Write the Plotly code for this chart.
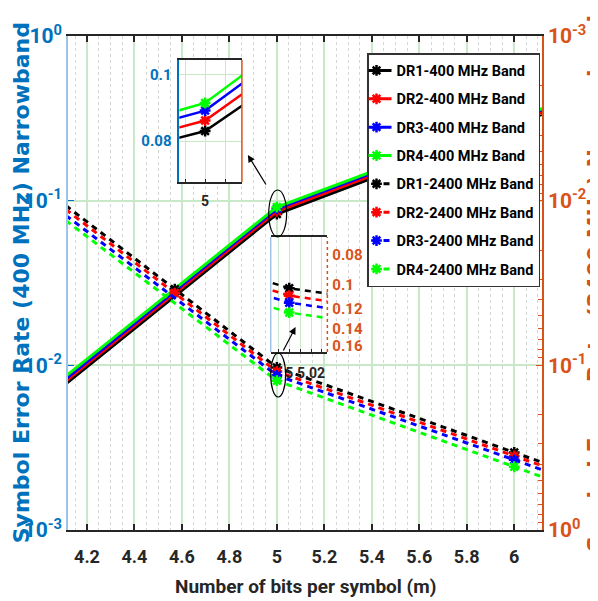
import plotly.graph_objects as go
import math

# ---------------- data ----------------
x_400 = [4, 5, 6, 6.5]
ser_dr1_400 = [0.00574, 0.0830, 0.290, 0.53]
ser_dr2_400 = [0.00596, 0.0862, 0.300, 0.55]
ser_dr3_400 = [0.00616, 0.0892, 0.310, 0.565]
ser_dr4_400 = [0.00641, 0.0915, 0.315, 0.57]

x_2400_a = [4, 4.57, 5, 6, 6.5]
x_2400_b = [4, 5, 6, 6.5]
ser_dr1_2400 = [0.00808, 0.0345, 0.103, 0.338, 0.612]
ser_dr2_2400 = [0.00853, 0.0364, 0.109, 0.355, 0.641]
ser_dr3_2400 = [0.0093, 0.115, 0.375, 0.677]
ser_dr4_2400 = [0.00998, 0.124, 0.413, 0.754]

names_400 = ["DR1-400 MHz Band", "DR2-400 MHz Band", "DR3-400 MHz Band", "DR4-400 MHz Band"]
names_2400 = ["DR1-2400 MHz Band", "DR2-2400 MHz Band", "DR3-2400 MHz Band", "DR4-2400 MHz Band"]
colors = ["#000000", "#ff0000", "#0000ff", "#00ff00"]

x_ticks = [4.2, 4.4, 4.6, 4.8, 5.0, 5.2, 5.4, 5.6, 5.8, 6.0]
x_ticktext = ["4.2", "4.4", "4.6", "4.8", "5", "5.2", "5.4", "5.6", "5.8", "6"]
y_ticks = [0.001, 0.01, 0.1, 1]
y_ticktext = ["10<sup>-3</sup>", "10<sup>-2</sup>", "10<sup>-1</sup>", "10<sup>0</sup>"]
y2_ticktext = ["10<sup>-3</sup>", "10<sup>-2</sup>", "10<sup>-1</sup>", "10<sup>0</sup>"]
inset1_xticks = [5.0]
inset1_xticktext = ["5"]
inset1_yticks = [0.08, 0.1]
inset1_yticktext = ["0.08", "0.1"]
inset2_xticks = [5.0, 5.02]
inset2_xticktext = ["5", "5.02"]
inset2_yticks = [0.08, 0.1, 0.12, 0.14, 0.16]
inset2_yticktext = ["0.08", "0.1", "0.12", "0.14", "0.16"]

# ---------------- style ----------------
BLUE = "#0072BD"
ORANGE = "#D95319"
LIGHTBLUE = "#9cc4e8"
GRID = "#c8e8c8"
NARROW = "Roboto, Liberation Sans, Arial"
WIDE = "DejaVu Sans, Verdana, sans-serif"
DASH = "6px,5px"

fig = go.Figure()

ser_400 = [ser_dr1_400, ser_dr2_400, ser_dr3_400, ser_dr4_400]
ser_2400 = [ser_dr1_2400, ser_dr2_2400, ser_dr3_2400, ser_dr4_2400]
x_2400 = [x_2400_a, x_2400_a, x_2400_b, x_2400_b]

marker_common = dict(symbol="asterisk-open", size=9)

for i in range(4):
    fig.add_trace(go.Scatter(
        x=x_400, y=ser_400[i], name=names_400[i], mode="lines+markers",
        line=dict(color=colors[i], width=3),
        marker=dict(color=colors[i], line=dict(color=colors[i], width=2.5), **marker_common),
        xaxis="x", yaxis="y", legendgroup=names_400[i]))
for i in range(4):
    fig.add_trace(go.Scatter(
        x=x_2400[i], y=ser_2400[i], name=names_2400[i], mode="lines+markers",
        line=dict(color=colors[i], width=3, dash=DASH),
        marker=dict(color=colors[i], line=dict(color=colors[i], width=2.5), **marker_common),
        xaxis="x", yaxis="y2", legendgroup=names_2400[i]))

# inset 1 (400 MHz zoom)
for i in range(4):
    fig.add_trace(go.Scatter(
        x=x_400, y=ser_400[i], mode="lines+markers", showlegend=False,
        line=dict(color=colors[i], width=2.5),
        marker=dict(color=colors[i], line=dict(color=colors[i], width=2.5), **marker_common),
        xaxis="x3", yaxis="y3"))
# inset 2 (2400 MHz zoom)
for i in range(4):
    fig.add_trace(go.Scatter(
        x=x_2400[i], y=ser_2400[i], mode="lines+markers", showlegend=False,
        line=dict(color=colors[i], width=2.5, dash=DASH),
        marker=dict(color=colors[i], line=dict(color=colors[i], width=2.5), **marker_common),
        xaxis="x4", yaxis="y4"))

# page pixel geometry of the plot area (browser body margin of 8px taken into account)
OFF = 8
L, R, T, B = 68, 545, 36, 530
PAGE_W, PAGE_H = 598, 601
W, H = PAGE_W - OFF, PAGE_H - OFF


def px(xp):
    return (xp - L) / (R - L)


def py(yp):
    return (B - yp) / (B - T)


tickfont_main = dict(family=NARROW, size=18, color="#262626", weight="bold")

fig.update_layout(
    width=W, height=H,
    margin=dict(l=L - OFF, r=PAGE_W - R, t=T - OFF, b=PAGE_H - B, pad=0),
    paper_bgcolor="white", plot_bgcolor="white",
    showlegend=True,
    legend=dict(x=px(543), y=py(53), xanchor="right", yanchor="top",
                bgcolor="white", bordercolor="#333333", borderwidth=1.5,
                font=dict(family=NARROW, size=14.5, color="#000000", weight="bold"),
                tracegroupgap=6.5, itemwidth=30, indentation=-12),
    xaxis=dict(domain=[0, 1], range=[4.12, 6.117], tickvals=x_ticks, ticktext=x_ticktext,
               ticks="inside", ticklen=6, tickwidth=1.5, tickcolor="#262626",
               showline=True, linecolor="#262626", linewidth=1.5, mirror="ticks",
               showgrid=True, gridcolor=GRID, gridwidth=1.5,
               minor=dict(dtick=0.05, showgrid=True, gridcolor="#d6d6d6", griddash="dot", gridwidth=1),
               tickfont=tickfont_main, ticklabelstandoff=10, zeroline=False),
    yaxis=dict(type="log", range=[-3, 0], tickvals=y_ticks, ticktext=y_ticktext,
               ticks="inside", ticklen=6, tickcolor=BLUE,
               showline=True, linecolor=LIGHTBLUE, linewidth=1.5,
               showgrid=True, gridcolor=GRID, gridwidth=1.5,
               tickfont=dict(family=NARROW, size=21, color=BLUE, weight="bold"),
               zeroline=False),
    yaxis2=dict(type="log", range=[0, -3], overlaying="y", side="right", anchor="x",
                tickvals=y_ticks, ticktext=y2_ticktext,
                ticks="inside", ticklen=6, tickcolor=ORANGE,
                minor=dict(ticks="inside", ticklen=4, tickcolor=ORANGE, dtick="D1", showgrid=False),
                showline=True, linecolor=ORANGE, linewidth=1.5, showgrid=False,
                tickfont=dict(family=NARROW, size=21, color=ORANGE, weight="bold"),
                zeroline=False),
    xaxis3=dict(domain=[px(180), px(243)], anchor="y3", range=[4.974, 5.037],
                tickvals=inset1_xticks, ticktext=inset1_xticktext,
                ticks="inside", ticklen=3, tickcolor="#262626",
                showline=True, linecolor="#262626", linewidth=1.5, mirror=True,
                showgrid=True, gridcolor=GRID, gridwidth=1.2,
                minor=dict(dtick=0.02, tick0=5.0, ticks="inside", ticklen=3, tickcolor="#262626",
                           showgrid=True, gridcolor=GRID, gridwidth=1.2),
                tickfont=dict(family=NARROW, size=14, color="#262626", weight="bold"),
                ticklabelstandoff=5, zeroline=False),
    yaxis3=dict(domain=[py(182), py(60)], anchor="x3", range=[0.0676, 0.1045],
                tickvals=inset1_yticks, ticktext=inset1_yticktext,
                ticks="", showline=True, linecolor=BLUE, linewidth=1.5,
                showgrid=True, gridcolor=GRID, gridwidth=1.2,
                tickfont=dict(family=NARROW, size=15, color=BLUE, weight="bold"),
                ticklabelstandoff=3, zeroline=False),
    xaxis4=dict(domain=[px(272), px(329)], anchor="y4", range=[4.983, 5.035],
                tickvals=inset2_xticks, ticktext=inset2_xticktext,
                ticks="inside", ticklen=3, tickcolor="#262626",
                showline=True, linecolor="#262626", linewidth=1.5, mirror=True,
                showgrid=True, gridcolor=GRID, gridwidth=1.2,
                minor=dict(dtick=0.01, tick0=5.0, ticks="inside", ticklen=3, tickcolor="#262626",
                           showgrid=True, gridcolor=GRID, gridwidth=1.2),
                tickfont=dict(family=NARROW, size=14, color="#262626", weight="bold"),
                ticklabelstandoff=7, zeroline=False),
    yaxis4=dict(domain=[py(352), py(237)], anchor="x4", type="log", side="right",
                range=[math.log10(0.1675), math.log10(0.0697)],
                tickvals=inset2_yticks, ticktext=inset2_yticktext,
                ticks="", showline=False, showgrid=False,
                tickfont=dict(family=NARROW, size=15, color=ORANGE, weight="bold"),
                ticklabelstandoff=4, zeroline=False),
)

shapes = [
    # inset 1 right spine (orange)
    dict(type="line", xref="paper", yref="paper", x0=px(243), x1=px(243), y0=py(182), y1=py(60),
         line=dict(color=ORANGE, width=1.5), layer="above"),
    # inset 2 left spine (light blue) and right spine (orange dotted)
    dict(type="line", xref="paper", yref="paper", x0=px(272), x1=px(272), y0=py(352), y1=py(237),
         line=dict(color=LIGHTBLUE, width=1.5), layer="above"),
    dict(type="line", xref="paper", yref="paper", x0=px(329), x1=px(329), y0=py(352), y1=py(237),
         line=dict(color=ORANGE, width=1.5, dash="dot"), layer="above"),
    # ellipses
    dict(type="circle", xref="paper", yref="paper", x0=px(270), x1=px(288), y0=py(237), y1=py(190),
         line=dict(color="#000000", width=1.2), layer="above"),
    dict(type="circle", xref="paper", yref="paper", x0=px(272), x1=px(287), y0=py(397), y1=py(353),
         line=dict(color="#000000", width=1.2), layer="above"),
]
fig.update_layout(shapes=shapes)

annotations = [
    dict(x=px(249), y=py(155), xref="paper", yref="paper", text="", showarrow=True,
         ax=19, ay=31, arrowhead=2, arrowsize=1.2, arrowwidth=1.2, arrowcolor="#000000"),
    dict(x=px(297), y=py(327), xref="paper", yref="paper", text="", showarrow=True,
         ax=-13, ay=25, arrowhead=2, arrowsize=1.2, arrowwidth=1.2, arrowcolor="#000000"),
    dict(x=px(21), y=py(283), xref="paper", yref="paper", text="Symbol Error Rate (400 MHz) Narrowband",
         textangle=-90, showarrow=False, xanchor="center", yanchor="middle",
         font=dict(family=WIDE, size=22, color=BLUE, weight="bold")),
    dict(x=px(598), y=py(283), xref="paper", yref="paper", text="Symbol Error Rate (2400 MHz) Narrowband",
         textangle=-90, showarrow=False, xanchor="center", yanchor="middle",
         font=dict(family=WIDE, size=22, color=ORANGE, weight="bold")),
    dict(x=px(307), y=py(586), xref="paper", yref="paper", text="Number of bits per symbol (m)",
         showarrow=False, xanchor="center", yanchor="middle",
         font=dict(family=NARROW, size=19, color="#262626", weight="bold")),
]
fig.update_layout(annotations=annotations)

fig.write_html("out.html")
